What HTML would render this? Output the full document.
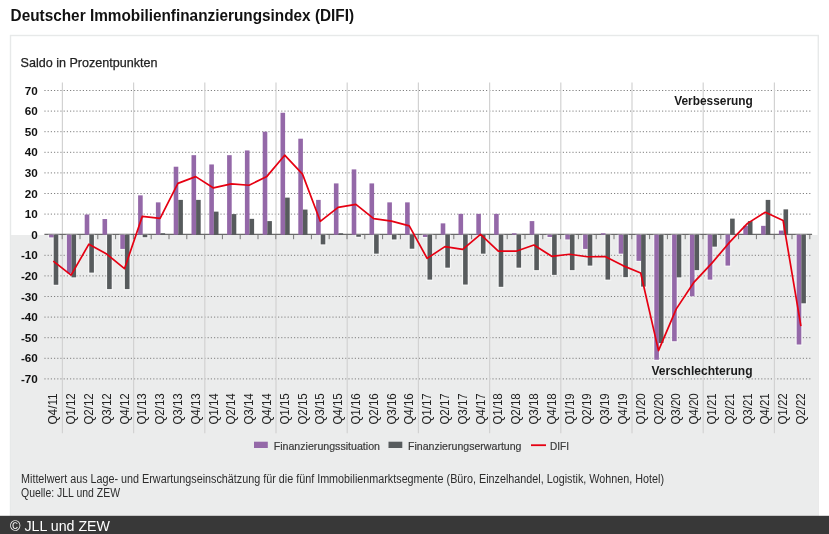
<!DOCTYPE html>
<html lang="de"><head><meta charset="utf-8"><title>Deutscher Immobilienfinanzierungsindex (DIFI)</title>
<style>
html,body{margin:0;padding:0;background:#fff;}
body{width:829px;height:534px;overflow:hidden;font-family:"Liberation Sans",sans-serif;}
svg{display:block;}
text{font-family:"Liberation Sans",sans-serif;}
</style></head><body>
<svg width="829" height="534" viewBox="0 0 829 534">

<rect x="0" y="0" width="829" height="534" fill="#fff"/>
<rect x="10.5" y="35.5" width="807.8" height="481" fill="#fff" stroke="#e7e9e9" stroke-width="1.4"/>
<rect x="11" y="235" width="807.6" height="282" fill="#ebecec"/>
<text x="10.6" y="21.4" font-size="15.8" font-weight="bold" fill="#111" textLength="343.5" lengthAdjust="spacingAndGlyphs">Deutscher Immobilienfinanzierungsindex (DIFI)</text>
<text x="20.5" y="66.8" font-size="12.8" fill="#222" stroke="#222" stroke-width="0.25" textLength="137" lengthAdjust="spacingAndGlyphs">Saldo in Prozentpunkten</text>
<line x1="44.4" y1="378.90" x2="812.1" y2="378.90" stroke="#808080" stroke-width="1" stroke-dasharray="1.2 2"/>
<text x="37.8" y="382.95" font-size="11.7" font-weight="bold" fill="#111" text-anchor="end">-70</text>
<line x1="44.4" y1="358.30" x2="812.1" y2="358.30" stroke="#808080" stroke-width="1" stroke-dasharray="1.2 2"/>
<text x="37.8" y="362.35" font-size="11.7" font-weight="bold" fill="#111" text-anchor="end">-60</text>
<line x1="44.4" y1="337.70" x2="812.1" y2="337.70" stroke="#808080" stroke-width="1" stroke-dasharray="1.2 2"/>
<text x="37.8" y="341.75" font-size="11.7" font-weight="bold" fill="#111" text-anchor="end">-50</text>
<line x1="44.4" y1="317.10" x2="812.1" y2="317.10" stroke="#808080" stroke-width="1" stroke-dasharray="1.2 2"/>
<text x="37.8" y="321.15" font-size="11.7" font-weight="bold" fill="#111" text-anchor="end">-40</text>
<line x1="44.4" y1="296.50" x2="812.1" y2="296.50" stroke="#808080" stroke-width="1" stroke-dasharray="1.2 2"/>
<text x="37.8" y="300.55" font-size="11.7" font-weight="bold" fill="#111" text-anchor="end">-30</text>
<line x1="44.4" y1="275.90" x2="812.1" y2="275.90" stroke="#808080" stroke-width="1" stroke-dasharray="1.2 2"/>
<text x="37.8" y="279.95" font-size="11.7" font-weight="bold" fill="#111" text-anchor="end">-20</text>
<line x1="44.4" y1="255.30" x2="812.1" y2="255.30" stroke="#808080" stroke-width="1" stroke-dasharray="1.2 2"/>
<text x="37.8" y="259.35" font-size="11.7" font-weight="bold" fill="#111" text-anchor="end">-10</text>
<text x="37.8" y="238.75" font-size="11.7" font-weight="bold" fill="#111" text-anchor="end">0</text>
<line x1="44.4" y1="214.10" x2="812.1" y2="214.10" stroke="#808080" stroke-width="1" stroke-dasharray="1.2 2"/>
<text x="37.8" y="218.15" font-size="11.7" font-weight="bold" fill="#111" text-anchor="end">10</text>
<line x1="44.4" y1="193.50" x2="812.1" y2="193.50" stroke="#808080" stroke-width="1" stroke-dasharray="1.2 2"/>
<text x="37.8" y="197.55" font-size="11.7" font-weight="bold" fill="#111" text-anchor="end">20</text>
<line x1="44.4" y1="172.90" x2="812.1" y2="172.90" stroke="#808080" stroke-width="1" stroke-dasharray="1.2 2"/>
<text x="37.8" y="176.95" font-size="11.7" font-weight="bold" fill="#111" text-anchor="end">30</text>
<line x1="44.4" y1="152.30" x2="812.1" y2="152.30" stroke="#808080" stroke-width="1" stroke-dasharray="1.2 2"/>
<text x="37.8" y="156.35" font-size="11.7" font-weight="bold" fill="#111" text-anchor="end">40</text>
<line x1="44.4" y1="131.70" x2="812.1" y2="131.70" stroke="#808080" stroke-width="1" stroke-dasharray="1.2 2"/>
<text x="37.8" y="135.75" font-size="11.7" font-weight="bold" fill="#111" text-anchor="end">50</text>
<line x1="44.4" y1="111.10" x2="812.1" y2="111.10" stroke="#808080" stroke-width="1" stroke-dasharray="1.2 2"/>
<text x="37.8" y="115.15" font-size="11.7" font-weight="bold" fill="#111" text-anchor="end">60</text>
<line x1="44.4" y1="90.50" x2="812.1" y2="90.50" stroke="#808080" stroke-width="1" stroke-dasharray="1.2 2"/>
<text x="37.8" y="94.55" font-size="11.7" font-weight="bold" fill="#111" text-anchor="end">70</text>
<line x1="62.40" y1="82.6" x2="62.40" y2="433.3" stroke="#d2d2d2" stroke-width="1.2"/>
<line x1="133.60" y1="82.6" x2="133.60" y2="433.3" stroke="#d2d2d2" stroke-width="1.2"/>
<line x1="204.80" y1="82.6" x2="204.80" y2="433.3" stroke="#d2d2d2" stroke-width="1.2"/>
<line x1="276.00" y1="82.6" x2="276.00" y2="433.3" stroke="#d2d2d2" stroke-width="1.2"/>
<line x1="347.20" y1="82.6" x2="347.20" y2="433.3" stroke="#d2d2d2" stroke-width="1.2"/>
<line x1="418.40" y1="82.6" x2="418.40" y2="433.3" stroke="#d2d2d2" stroke-width="1.2"/>
<line x1="489.60" y1="82.6" x2="489.60" y2="433.3" stroke="#d2d2d2" stroke-width="1.2"/>
<line x1="560.80" y1="82.6" x2="560.80" y2="433.3" stroke="#d2d2d2" stroke-width="1.2"/>
<line x1="632.00" y1="82.6" x2="632.00" y2="433.3" stroke="#d2d2d2" stroke-width="1.2"/>
<line x1="703.20" y1="82.6" x2="703.20" y2="433.3" stroke="#d2d2d2" stroke-width="1.2"/>
<line x1="774.40" y1="82.6" x2="774.40" y2="433.3" stroke="#d2d2d2" stroke-width="1.2"/>
<line x1="44.4" y1="234.39999999999998" x2="812.1" y2="234.39999999999998" stroke="#6a6a6a" stroke-width="1.2"/>
<line x1="62.20" y1="234.7" x2="62.20" y2="239.2" stroke="#777" stroke-width="1"/>
<line x1="80.00" y1="234.7" x2="80.00" y2="239.2" stroke="#777" stroke-width="1"/>
<line x1="97.80" y1="234.7" x2="97.80" y2="239.2" stroke="#777" stroke-width="1"/>
<line x1="115.60" y1="234.7" x2="115.60" y2="239.2" stroke="#777" stroke-width="1"/>
<line x1="133.40" y1="234.7" x2="133.40" y2="239.2" stroke="#777" stroke-width="1"/>
<line x1="151.20" y1="234.7" x2="151.20" y2="239.2" stroke="#777" stroke-width="1"/>
<line x1="169.00" y1="234.7" x2="169.00" y2="239.2" stroke="#777" stroke-width="1"/>
<line x1="186.80" y1="234.7" x2="186.80" y2="239.2" stroke="#777" stroke-width="1"/>
<line x1="204.60" y1="234.7" x2="204.60" y2="239.2" stroke="#777" stroke-width="1"/>
<line x1="222.40" y1="234.7" x2="222.40" y2="239.2" stroke="#777" stroke-width="1"/>
<line x1="240.20" y1="234.7" x2="240.20" y2="239.2" stroke="#777" stroke-width="1"/>
<line x1="258.00" y1="234.7" x2="258.00" y2="239.2" stroke="#777" stroke-width="1"/>
<line x1="275.80" y1="234.7" x2="275.80" y2="239.2" stroke="#777" stroke-width="1"/>
<line x1="293.60" y1="234.7" x2="293.60" y2="239.2" stroke="#777" stroke-width="1"/>
<line x1="311.40" y1="234.7" x2="311.40" y2="239.2" stroke="#777" stroke-width="1"/>
<line x1="329.20" y1="234.7" x2="329.20" y2="239.2" stroke="#777" stroke-width="1"/>
<line x1="347.00" y1="234.7" x2="347.00" y2="239.2" stroke="#777" stroke-width="1"/>
<line x1="364.80" y1="234.7" x2="364.80" y2="239.2" stroke="#777" stroke-width="1"/>
<line x1="382.60" y1="234.7" x2="382.60" y2="239.2" stroke="#777" stroke-width="1"/>
<line x1="400.40" y1="234.7" x2="400.40" y2="239.2" stroke="#777" stroke-width="1"/>
<line x1="418.20" y1="234.7" x2="418.20" y2="239.2" stroke="#777" stroke-width="1"/>
<line x1="436.00" y1="234.7" x2="436.00" y2="239.2" stroke="#777" stroke-width="1"/>
<line x1="453.80" y1="234.7" x2="453.80" y2="239.2" stroke="#777" stroke-width="1"/>
<line x1="471.60" y1="234.7" x2="471.60" y2="239.2" stroke="#777" stroke-width="1"/>
<line x1="489.40" y1="234.7" x2="489.40" y2="239.2" stroke="#777" stroke-width="1"/>
<line x1="507.20" y1="234.7" x2="507.20" y2="239.2" stroke="#777" stroke-width="1"/>
<line x1="525.00" y1="234.7" x2="525.00" y2="239.2" stroke="#777" stroke-width="1"/>
<line x1="542.80" y1="234.7" x2="542.80" y2="239.2" stroke="#777" stroke-width="1"/>
<line x1="560.60" y1="234.7" x2="560.60" y2="239.2" stroke="#777" stroke-width="1"/>
<line x1="578.40" y1="234.7" x2="578.40" y2="239.2" stroke="#777" stroke-width="1"/>
<line x1="596.20" y1="234.7" x2="596.20" y2="239.2" stroke="#777" stroke-width="1"/>
<line x1="614.00" y1="234.7" x2="614.00" y2="239.2" stroke="#777" stroke-width="1"/>
<line x1="631.80" y1="234.7" x2="631.80" y2="239.2" stroke="#777" stroke-width="1"/>
<line x1="649.60" y1="234.7" x2="649.60" y2="239.2" stroke="#777" stroke-width="1"/>
<line x1="667.40" y1="234.7" x2="667.40" y2="239.2" stroke="#777" stroke-width="1"/>
<line x1="685.20" y1="234.7" x2="685.20" y2="239.2" stroke="#777" stroke-width="1"/>
<line x1="703.00" y1="234.7" x2="703.00" y2="239.2" stroke="#777" stroke-width="1"/>
<line x1="720.80" y1="234.7" x2="720.80" y2="239.2" stroke="#777" stroke-width="1"/>
<line x1="738.60" y1="234.7" x2="738.60" y2="239.2" stroke="#777" stroke-width="1"/>
<line x1="756.40" y1="234.7" x2="756.40" y2="239.2" stroke="#777" stroke-width="1"/>
<line x1="774.20" y1="234.7" x2="774.20" y2="239.2" stroke="#777" stroke-width="1"/>
<line x1="792.00" y1="234.7" x2="792.00" y2="239.2" stroke="#777" stroke-width="1"/>
<line x1="809.80" y1="234.7" x2="809.80" y2="239.2" stroke="#777" stroke-width="1"/>
<rect x="49.10" y="235.7" width="4.6" height="1.68" fill="none" stroke="#fff" stroke-opacity="0.5" stroke-width="2.4"/>
<rect x="53.70" y="235.7" width="4.6" height="49.06" fill="none" stroke="#fff" stroke-opacity="0.5" stroke-width="2.4"/>
<rect x="66.90" y="235.7" width="4.6" height="37.73" fill="none" stroke="#fff" stroke-opacity="0.5" stroke-width="2.4"/>
<rect x="71.50" y="235.7" width="4.6" height="41.64" fill="none" stroke="#fff" stroke-opacity="0.5" stroke-width="2.4"/>
<rect x="89.30" y="235.7" width="4.6" height="36.90" fill="none" stroke="#fff" stroke-opacity="0.5" stroke-width="2.4"/>
<rect x="107.10" y="235.7" width="4.6" height="53.38" fill="none" stroke="#fff" stroke-opacity="0.5" stroke-width="2.4"/>
<rect x="120.30" y="235.7" width="4.6" height="13.21" fill="none" stroke="#fff" stroke-opacity="0.5" stroke-width="2.4"/>
<rect x="124.90" y="235.7" width="4.6" height="53.38" fill="none" stroke="#fff" stroke-opacity="0.5" stroke-width="2.4"/>
<rect x="142.70" y="235.7" width="4.6" height="1.47" fill="none" stroke="#fff" stroke-opacity="0.5" stroke-width="2.4"/>
<rect x="320.70" y="235.7" width="4.6" height="8.68" fill="none" stroke="#fff" stroke-opacity="0.5" stroke-width="2.4"/>
<rect x="356.30" y="235.7" width="4.6" height="1.06" fill="none" stroke="#fff" stroke-opacity="0.5" stroke-width="2.4"/>
<rect x="374.10" y="235.7" width="4.6" height="17.95" fill="none" stroke="#fff" stroke-opacity="0.5" stroke-width="2.4"/>
<rect x="391.90" y="235.7" width="4.6" height="3.74" fill="none" stroke="#fff" stroke-opacity="0.5" stroke-width="2.4"/>
<rect x="409.70" y="235.7" width="4.6" height="13.01" fill="none" stroke="#fff" stroke-opacity="0.5" stroke-width="2.4"/>
<rect x="422.90" y="235.7" width="4.6" height="1.27" fill="none" stroke="#fff" stroke-opacity="0.5" stroke-width="2.4"/>
<rect x="427.50" y="235.7" width="4.6" height="43.91" fill="none" stroke="#fff" stroke-opacity="0.5" stroke-width="2.4"/>
<rect x="445.30" y="235.7" width="4.6" height="31.96" fill="none" stroke="#fff" stroke-opacity="0.5" stroke-width="2.4"/>
<rect x="463.10" y="235.7" width="4.6" height="48.85" fill="none" stroke="#fff" stroke-opacity="0.5" stroke-width="2.4"/>
<rect x="480.90" y="235.7" width="4.6" height="17.95" fill="none" stroke="#fff" stroke-opacity="0.5" stroke-width="2.4"/>
<rect x="498.70" y="235.7" width="4.6" height="51.12" fill="none" stroke="#fff" stroke-opacity="0.5" stroke-width="2.4"/>
<rect x="516.50" y="235.7" width="4.6" height="31.96" fill="none" stroke="#fff" stroke-opacity="0.5" stroke-width="2.4"/>
<rect x="534.30" y="235.7" width="4.6" height="34.43" fill="none" stroke="#fff" stroke-opacity="0.5" stroke-width="2.4"/>
<rect x="547.50" y="235.7" width="4.6" height="1.27" fill="none" stroke="#fff" stroke-opacity="0.5" stroke-width="2.4"/>
<rect x="552.10" y="235.7" width="4.6" height="39.17" fill="none" stroke="#fff" stroke-opacity="0.5" stroke-width="2.4"/>
<rect x="565.30" y="235.7" width="4.6" height="3.74" fill="none" stroke="#fff" stroke-opacity="0.5" stroke-width="2.4"/>
<rect x="569.90" y="235.7" width="4.6" height="34.43" fill="none" stroke="#fff" stroke-opacity="0.5" stroke-width="2.4"/>
<rect x="583.10" y="235.7" width="4.6" height="13.21" fill="none" stroke="#fff" stroke-opacity="0.5" stroke-width="2.4"/>
<rect x="587.70" y="235.7" width="4.6" height="29.90" fill="none" stroke="#fff" stroke-opacity="0.5" stroke-width="2.4"/>
<rect x="605.50" y="235.7" width="4.6" height="43.91" fill="none" stroke="#fff" stroke-opacity="0.5" stroke-width="2.4"/>
<rect x="618.70" y="235.7" width="4.6" height="17.95" fill="none" stroke="#fff" stroke-opacity="0.5" stroke-width="2.4"/>
<rect x="623.30" y="235.7" width="4.6" height="41.44" fill="none" stroke="#fff" stroke-opacity="0.5" stroke-width="2.4"/>
<rect x="636.50" y="235.7" width="4.6" height="25.16" fill="none" stroke="#fff" stroke-opacity="0.5" stroke-width="2.4"/>
<rect x="641.10" y="235.7" width="4.6" height="50.91" fill="none" stroke="#fff" stroke-opacity="0.5" stroke-width="2.4"/>
<rect x="654.30" y="235.7" width="4.6" height="124.04" fill="none" stroke="#fff" stroke-opacity="0.5" stroke-width="2.4"/>
<rect x="658.90" y="235.7" width="4.6" height="107.36" fill="none" stroke="#fff" stroke-opacity="0.5" stroke-width="2.4"/>
<rect x="672.10" y="235.7" width="4.6" height="105.50" fill="none" stroke="#fff" stroke-opacity="0.5" stroke-width="2.4"/>
<rect x="676.70" y="235.7" width="4.6" height="41.64" fill="none" stroke="#fff" stroke-opacity="0.5" stroke-width="2.4"/>
<rect x="689.90" y="235.7" width="4.6" height="60.59" fill="none" stroke="#fff" stroke-opacity="0.5" stroke-width="2.4"/>
<rect x="694.50" y="235.7" width="4.6" height="34.43" fill="none" stroke="#fff" stroke-opacity="0.5" stroke-width="2.4"/>
<rect x="707.70" y="235.7" width="4.6" height="43.91" fill="none" stroke="#fff" stroke-opacity="0.5" stroke-width="2.4"/>
<rect x="712.30" y="235.7" width="4.6" height="10.95" fill="none" stroke="#fff" stroke-opacity="0.5" stroke-width="2.4"/>
<rect x="725.50" y="235.7" width="4.6" height="29.90" fill="none" stroke="#fff" stroke-opacity="0.5" stroke-width="2.4"/>
<rect x="796.70" y="235.7" width="4.6" height="108.80" fill="none" stroke="#fff" stroke-opacity="0.5" stroke-width="2.4"/>
<rect x="801.30" y="235.7" width="4.6" height="67.60" fill="none" stroke="#fff" stroke-opacity="0.5" stroke-width="2.4"/>
<rect x="49.10" y="234.70" width="4.6" height="2.68" fill="#9468a8"/>
<rect x="53.70" y="234.70" width="4.6" height="50.06" fill="#575b5d"/>
<rect x="66.90" y="234.70" width="4.6" height="38.73" fill="#9468a8"/>
<rect x="71.50" y="234.70" width="4.6" height="42.64" fill="#575b5d"/>
<rect x="84.70" y="214.51" width="4.6" height="20.19" fill="#9468a8"/>
<rect x="89.30" y="234.70" width="4.6" height="37.90" fill="#575b5d"/>
<rect x="102.50" y="219.04" width="4.6" height="15.66" fill="#9468a8"/>
<rect x="107.10" y="234.70" width="4.6" height="54.38" fill="#575b5d"/>
<rect x="120.30" y="234.70" width="4.6" height="14.21" fill="#9468a8"/>
<rect x="124.90" y="234.70" width="4.6" height="54.38" fill="#575b5d"/>
<rect x="138.10" y="195.35" width="4.6" height="39.35" fill="#9468a8"/>
<rect x="142.70" y="234.70" width="4.6" height="2.47" fill="#575b5d"/>
<rect x="155.90" y="202.36" width="4.6" height="32.34" fill="#9468a8"/>
<rect x="160.50" y="233.26" width="4.6" height="1.44" fill="#575b5d"/>
<rect x="173.70" y="166.72" width="4.6" height="67.98" fill="#9468a8"/>
<rect x="178.30" y="199.89" width="4.6" height="34.81" fill="#575b5d"/>
<rect x="191.50" y="155.18" width="4.6" height="79.52" fill="#9468a8"/>
<rect x="196.10" y="199.89" width="4.6" height="34.81" fill="#575b5d"/>
<rect x="209.30" y="164.45" width="4.6" height="70.25" fill="#9468a8"/>
<rect x="213.90" y="211.63" width="4.6" height="23.07" fill="#575b5d"/>
<rect x="227.10" y="155.18" width="4.6" height="79.52" fill="#9468a8"/>
<rect x="231.70" y="214.10" width="4.6" height="20.60" fill="#575b5d"/>
<rect x="244.90" y="150.45" width="4.6" height="84.25" fill="#9468a8"/>
<rect x="249.50" y="218.84" width="4.6" height="15.86" fill="#575b5d"/>
<rect x="262.70" y="131.70" width="4.6" height="103.00" fill="#9468a8"/>
<rect x="267.30" y="221.10" width="4.6" height="13.60" fill="#575b5d"/>
<rect x="280.50" y="112.75" width="4.6" height="121.95" fill="#9468a8"/>
<rect x="285.10" y="197.62" width="4.6" height="37.08" fill="#575b5d"/>
<rect x="298.30" y="138.70" width="4.6" height="96.00" fill="#9468a8"/>
<rect x="302.90" y="209.57" width="4.6" height="25.13" fill="#575b5d"/>
<rect x="316.10" y="199.89" width="4.6" height="34.81" fill="#9468a8"/>
<rect x="320.70" y="234.70" width="4.6" height="9.68" fill="#575b5d"/>
<rect x="333.90" y="183.41" width="4.6" height="51.29" fill="#9468a8"/>
<rect x="338.50" y="233.26" width="4.6" height="1.44" fill="#575b5d"/>
<rect x="351.70" y="169.40" width="4.6" height="65.30" fill="#9468a8"/>
<rect x="356.30" y="234.70" width="4.6" height="2.06" fill="#575b5d"/>
<rect x="369.50" y="183.41" width="4.6" height="51.29" fill="#9468a8"/>
<rect x="374.10" y="234.70" width="4.6" height="18.95" fill="#575b5d"/>
<rect x="387.30" y="202.36" width="4.6" height="32.34" fill="#9468a8"/>
<rect x="391.90" y="234.70" width="4.6" height="4.74" fill="#575b5d"/>
<rect x="405.10" y="202.36" width="4.6" height="32.34" fill="#9468a8"/>
<rect x="409.70" y="234.70" width="4.6" height="14.01" fill="#575b5d"/>
<rect x="422.90" y="234.70" width="4.6" height="2.27" fill="#9468a8"/>
<rect x="427.50" y="234.70" width="4.6" height="44.91" fill="#575b5d"/>
<rect x="440.70" y="223.37" width="4.6" height="11.33" fill="#9468a8"/>
<rect x="445.30" y="234.70" width="4.6" height="32.96" fill="#575b5d"/>
<rect x="458.50" y="213.89" width="4.6" height="20.81" fill="#9468a8"/>
<rect x="463.10" y="234.70" width="4.6" height="49.85" fill="#575b5d"/>
<rect x="476.30" y="213.89" width="4.6" height="20.81" fill="#9468a8"/>
<rect x="480.90" y="234.70" width="4.6" height="18.95" fill="#575b5d"/>
<rect x="494.10" y="213.89" width="4.6" height="20.81" fill="#9468a8"/>
<rect x="498.70" y="234.70" width="4.6" height="52.12" fill="#575b5d"/>
<rect x="511.90" y="233.26" width="4.6" height="1.44" fill="#9468a8"/>
<rect x="516.50" y="234.70" width="4.6" height="32.96" fill="#575b5d"/>
<rect x="529.70" y="221.10" width="4.6" height="13.60" fill="#9468a8"/>
<rect x="534.30" y="234.70" width="4.6" height="35.43" fill="#575b5d"/>
<rect x="547.50" y="234.70" width="4.6" height="2.27" fill="#9468a8"/>
<rect x="552.10" y="234.70" width="4.6" height="40.17" fill="#575b5d"/>
<rect x="565.30" y="234.70" width="4.6" height="4.74" fill="#9468a8"/>
<rect x="569.90" y="234.70" width="4.6" height="35.43" fill="#575b5d"/>
<rect x="583.10" y="234.70" width="4.6" height="14.21" fill="#9468a8"/>
<rect x="587.70" y="234.70" width="4.6" height="30.90" fill="#575b5d"/>
<rect x="600.90" y="233.26" width="4.6" height="1.44" fill="#9468a8"/>
<rect x="605.50" y="234.70" width="4.6" height="44.91" fill="#575b5d"/>
<rect x="618.70" y="234.70" width="4.6" height="18.95" fill="#9468a8"/>
<rect x="623.30" y="234.70" width="4.6" height="42.44" fill="#575b5d"/>
<rect x="636.50" y="234.70" width="4.6" height="26.16" fill="#9468a8"/>
<rect x="641.10" y="234.70" width="4.6" height="51.91" fill="#575b5d"/>
<rect x="654.30" y="234.70" width="4.6" height="125.04" fill="#9468a8"/>
<rect x="658.90" y="234.70" width="4.6" height="108.36" fill="#575b5d"/>
<rect x="672.10" y="234.70" width="4.6" height="106.50" fill="#9468a8"/>
<rect x="676.70" y="234.70" width="4.6" height="42.64" fill="#575b5d"/>
<rect x="689.90" y="234.70" width="4.6" height="61.59" fill="#9468a8"/>
<rect x="694.50" y="234.70" width="4.6" height="35.43" fill="#575b5d"/>
<rect x="707.70" y="234.70" width="4.6" height="44.91" fill="#9468a8"/>
<rect x="712.30" y="234.70" width="4.6" height="11.95" fill="#575b5d"/>
<rect x="725.50" y="234.70" width="4.6" height="30.90" fill="#9468a8"/>
<rect x="730.10" y="218.63" width="4.6" height="16.07" fill="#575b5d"/>
<rect x="743.30" y="225.84" width="4.6" height="8.86" fill="#9468a8"/>
<rect x="747.90" y="221.10" width="4.6" height="13.60" fill="#575b5d"/>
<rect x="761.10" y="225.84" width="4.6" height="8.86" fill="#9468a8"/>
<rect x="765.70" y="199.89" width="4.6" height="34.81" fill="#575b5d"/>
<rect x="778.90" y="230.58" width="4.6" height="4.12" fill="#9468a8"/>
<rect x="783.50" y="209.36" width="4.6" height="25.34" fill="#575b5d"/>
<rect x="796.70" y="234.70" width="4.6" height="109.80" fill="#9468a8"/>
<rect x="801.30" y="234.70" width="4.6" height="68.60" fill="#575b5d"/>
<polyline points="53.30,261.07 71.10,275.08 88.90,244.18 106.70,254.06 124.50,268.69 142.30,216.37 160.10,218.43 177.90,183.41 195.70,176.61 213.50,187.94 231.30,183.82 249.10,185.26 266.90,176.40 284.70,155.18 302.50,174.14 320.30,221.31 338.10,207.30 355.90,204.42 373.70,218.63 391.50,221.10 409.30,225.84 427.10,258.39 444.90,246.65 462.70,249.33 480.50,234.29 498.30,251.18 516.10,251.18 533.90,245.00 551.70,256.33 569.50,254.27 587.30,256.74 605.10,256.54 622.90,265.60 640.70,273.02 658.50,350.68 676.30,308.86 694.10,282.08 711.90,263.13 729.70,242.12 747.50,223.37 765.30,212.25 783.10,220.49 800.90,326.16" fill="none" stroke="#e60012" stroke-width="1.7" stroke-linejoin="round"/>
<text transform="translate(57.30,424.6) rotate(-90)" font-size="12" fill="#222" textLength="31.3" lengthAdjust="spacingAndGlyphs">Q4/11</text>
<text transform="translate(75.10,424.6) rotate(-90)" font-size="12" fill="#222" textLength="31.3" lengthAdjust="spacingAndGlyphs">Q1/12</text>
<text transform="translate(92.90,424.6) rotate(-90)" font-size="12" fill="#222" textLength="31.3" lengthAdjust="spacingAndGlyphs">Q2/12</text>
<text transform="translate(110.70,424.6) rotate(-90)" font-size="12" fill="#222" textLength="31.3" lengthAdjust="spacingAndGlyphs">Q3/12</text>
<text transform="translate(128.50,424.6) rotate(-90)" font-size="12" fill="#222" textLength="31.3" lengthAdjust="spacingAndGlyphs">Q4/12</text>
<text transform="translate(146.30,424.6) rotate(-90)" font-size="12" fill="#222" textLength="31.3" lengthAdjust="spacingAndGlyphs">Q1/13</text>
<text transform="translate(164.10,424.6) rotate(-90)" font-size="12" fill="#222" textLength="31.3" lengthAdjust="spacingAndGlyphs">Q2/13</text>
<text transform="translate(181.90,424.6) rotate(-90)" font-size="12" fill="#222" textLength="31.3" lengthAdjust="spacingAndGlyphs">Q3/13</text>
<text transform="translate(199.70,424.6) rotate(-90)" font-size="12" fill="#222" textLength="31.3" lengthAdjust="spacingAndGlyphs">Q4/13</text>
<text transform="translate(217.50,424.6) rotate(-90)" font-size="12" fill="#222" textLength="31.3" lengthAdjust="spacingAndGlyphs">Q1/14</text>
<text transform="translate(235.30,424.6) rotate(-90)" font-size="12" fill="#222" textLength="31.3" lengthAdjust="spacingAndGlyphs">Q2/14</text>
<text transform="translate(253.10,424.6) rotate(-90)" font-size="12" fill="#222" textLength="31.3" lengthAdjust="spacingAndGlyphs">Q3/14</text>
<text transform="translate(270.90,424.6) rotate(-90)" font-size="12" fill="#222" textLength="31.3" lengthAdjust="spacingAndGlyphs">Q4/14</text>
<text transform="translate(288.70,424.6) rotate(-90)" font-size="12" fill="#222" textLength="31.3" lengthAdjust="spacingAndGlyphs">Q1/15</text>
<text transform="translate(306.50,424.6) rotate(-90)" font-size="12" fill="#222" textLength="31.3" lengthAdjust="spacingAndGlyphs">Q2/15</text>
<text transform="translate(324.30,424.6) rotate(-90)" font-size="12" fill="#222" textLength="31.3" lengthAdjust="spacingAndGlyphs">Q3/15</text>
<text transform="translate(342.10,424.6) rotate(-90)" font-size="12" fill="#222" textLength="31.3" lengthAdjust="spacingAndGlyphs">Q4/15</text>
<text transform="translate(359.90,424.6) rotate(-90)" font-size="12" fill="#222" textLength="31.3" lengthAdjust="spacingAndGlyphs">Q1/16</text>
<text transform="translate(377.70,424.6) rotate(-90)" font-size="12" fill="#222" textLength="31.3" lengthAdjust="spacingAndGlyphs">Q2/16</text>
<text transform="translate(395.50,424.6) rotate(-90)" font-size="12" fill="#222" textLength="31.3" lengthAdjust="spacingAndGlyphs">Q3/16</text>
<text transform="translate(413.30,424.6) rotate(-90)" font-size="12" fill="#222" textLength="31.3" lengthAdjust="spacingAndGlyphs">Q4/16</text>
<text transform="translate(431.10,424.6) rotate(-90)" font-size="12" fill="#222" textLength="31.3" lengthAdjust="spacingAndGlyphs">Q1/17</text>
<text transform="translate(448.90,424.6) rotate(-90)" font-size="12" fill="#222" textLength="31.3" lengthAdjust="spacingAndGlyphs">Q2/17</text>
<text transform="translate(466.70,424.6) rotate(-90)" font-size="12" fill="#222" textLength="31.3" lengthAdjust="spacingAndGlyphs">Q3/17</text>
<text transform="translate(484.50,424.6) rotate(-90)" font-size="12" fill="#222" textLength="31.3" lengthAdjust="spacingAndGlyphs">Q4/17</text>
<text transform="translate(502.30,424.6) rotate(-90)" font-size="12" fill="#222" textLength="31.3" lengthAdjust="spacingAndGlyphs">Q1/18</text>
<text transform="translate(520.10,424.6) rotate(-90)" font-size="12" fill="#222" textLength="31.3" lengthAdjust="spacingAndGlyphs">Q2/18</text>
<text transform="translate(537.90,424.6) rotate(-90)" font-size="12" fill="#222" textLength="31.3" lengthAdjust="spacingAndGlyphs">Q3/18</text>
<text transform="translate(555.70,424.6) rotate(-90)" font-size="12" fill="#222" textLength="31.3" lengthAdjust="spacingAndGlyphs">Q4/18</text>
<text transform="translate(573.50,424.6) rotate(-90)" font-size="12" fill="#222" textLength="31.3" lengthAdjust="spacingAndGlyphs">Q1/19</text>
<text transform="translate(591.30,424.6) rotate(-90)" font-size="12" fill="#222" textLength="31.3" lengthAdjust="spacingAndGlyphs">Q2/19</text>
<text transform="translate(609.10,424.6) rotate(-90)" font-size="12" fill="#222" textLength="31.3" lengthAdjust="spacingAndGlyphs">Q3/19</text>
<text transform="translate(626.90,424.6) rotate(-90)" font-size="12" fill="#222" textLength="31.3" lengthAdjust="spacingAndGlyphs">Q4/19</text>
<text transform="translate(644.70,424.6) rotate(-90)" font-size="12" fill="#222" textLength="31.3" lengthAdjust="spacingAndGlyphs">Q1/20</text>
<text transform="translate(662.50,424.6) rotate(-90)" font-size="12" fill="#222" textLength="31.3" lengthAdjust="spacingAndGlyphs">Q2/20</text>
<text transform="translate(680.30,424.6) rotate(-90)" font-size="12" fill="#222" textLength="31.3" lengthAdjust="spacingAndGlyphs">Q3/20</text>
<text transform="translate(698.10,424.6) rotate(-90)" font-size="12" fill="#222" textLength="31.3" lengthAdjust="spacingAndGlyphs">Q4/20</text>
<text transform="translate(715.90,424.6) rotate(-90)" font-size="12" fill="#222" textLength="31.3" lengthAdjust="spacingAndGlyphs">Q1/21</text>
<text transform="translate(733.70,424.6) rotate(-90)" font-size="12" fill="#222" textLength="31.3" lengthAdjust="spacingAndGlyphs">Q2/21</text>
<text transform="translate(751.50,424.6) rotate(-90)" font-size="12" fill="#222" textLength="31.3" lengthAdjust="spacingAndGlyphs">Q3/21</text>
<text transform="translate(769.30,424.6) rotate(-90)" font-size="12" fill="#222" textLength="31.3" lengthAdjust="spacingAndGlyphs">Q4/21</text>
<text transform="translate(787.10,424.6) rotate(-90)" font-size="12" fill="#222" textLength="31.3" lengthAdjust="spacingAndGlyphs">Q1/22</text>
<text transform="translate(804.90,424.6) rotate(-90)" font-size="12" fill="#222" textLength="31.3" lengthAdjust="spacingAndGlyphs">Q2/22</text>
<text x="674.2" y="105.1" font-size="12.6" font-weight="bold" fill="#1a1a1a" textLength="78.7" lengthAdjust="spacingAndGlyphs">Verbesserung</text>
<text x="651.5" y="375.2" font-size="12.6" font-weight="bold" fill="#1a1a1a" textLength="101" lengthAdjust="spacingAndGlyphs">Verschlechterung</text>
<rect x="254" y="441.7" width="13.8" height="6.3" fill="#9468a8"/>
<text x="273.7" y="449.7" font-size="11.8" fill="#3a3a3a" stroke="#3a3a3a" stroke-width="0.2" textLength="106.3" lengthAdjust="spacingAndGlyphs">Finanzierungssituation</text>
<rect x="388.5" y="441.7" width="13.8" height="6.3" fill="#575b5d"/>
<text x="408" y="449.7" font-size="11.8" fill="#3a3a3a" stroke="#3a3a3a" stroke-width="0.2" textLength="113.5" lengthAdjust="spacingAndGlyphs">Finanzierungserwartung</text>
<line x1="531" y1="445.2" x2="546" y2="445.2" stroke="#e60012" stroke-width="1.8"/>
<text x="550" y="449.7" font-size="11.8" fill="#3a3a3a" stroke="#3a3a3a" stroke-width="0.2" textLength="19" lengthAdjust="spacingAndGlyphs">DIFI</text>
<text x="21" y="482.9" font-size="12" fill="#2c2c2c" textLength="643" lengthAdjust="spacingAndGlyphs">Mittelwert aus Lage- und Erwartungseinschätzung für die fünf Immobilienmarktsegmente (Büro, Einzelhandel, Logistik, Wohnen, Hotel)</text>
<text x="21" y="496.7" font-size="12" fill="#2c2c2c" textLength="99" lengthAdjust="spacingAndGlyphs">Quelle: JLL und ZEW</text>
<rect x="0" y="515.8" width="829" height="18.2" fill="#383838"/>
<text x="10" y="530.7" font-size="14.4" fill="#fff" textLength="100" lengthAdjust="spacingAndGlyphs">© JLL und ZEW</text>
</svg></body></html>
